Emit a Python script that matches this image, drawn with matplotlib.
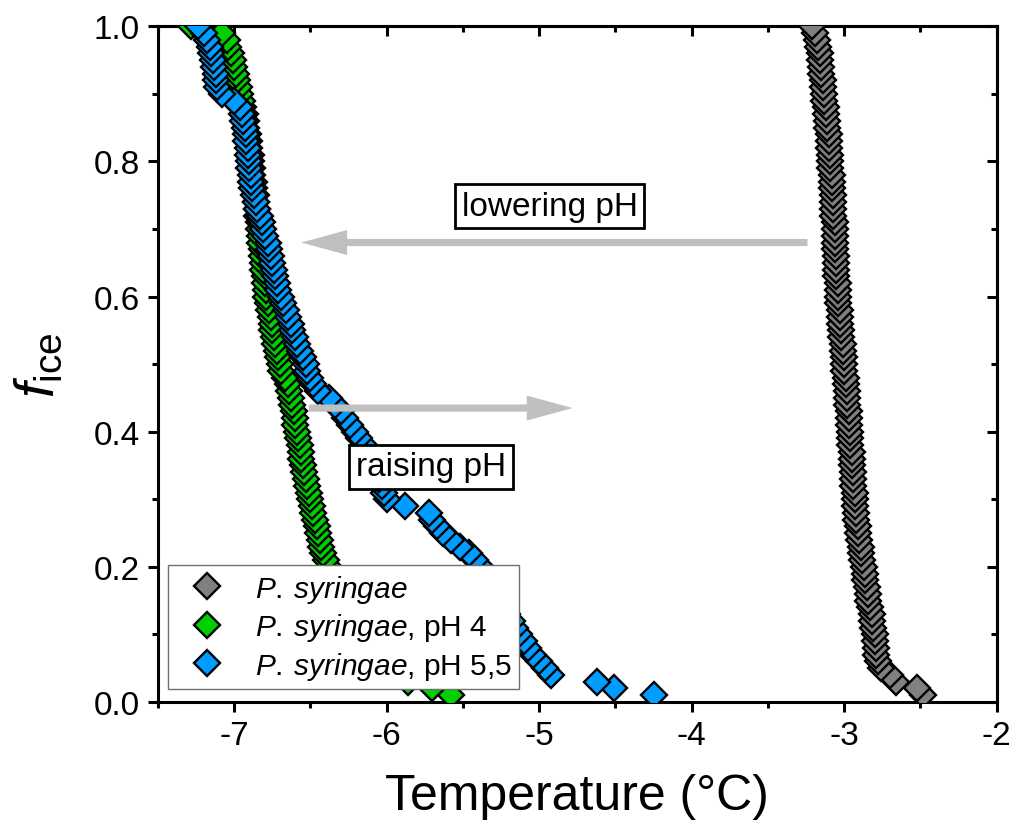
import matplotlib
matplotlib.use("Agg")
import matplotlib.pyplot as plt
from matplotlib.ticker import MultipleLocator

plt.rcParams['font.family'] = ['Liberation Sans', 'DejaVu Sans']
plt.rcParams['mathtext.fontset'] = 'custom'
plt.rcParams['mathtext.rm'] = 'Liberation Sans'
plt.rcParams['mathtext.it'] = 'Liberation Sans:italic'
plt.rcParams['axes.unicode_minus'] = False

# fraction of frozen droplets (ascending order, as measured)
f_ice = [0.01, 0.02, 0.03, 0.04, 0.05, 0.06, 0.07, 0.08, 0.09, 0.10,
         0.11, 0.12, 0.13, 0.14, 0.15, 0.16, 0.17, 0.18, 0.19, 0.20,
         0.21, 0.22, 0.23, 0.24, 0.25, 0.26, 0.27, 0.28, 0.29, 0.30,
         0.31, 0.32, 0.33, 0.34, 0.35, 0.36, 0.37, 0.38, 0.39, 0.40,
         0.41, 0.42, 0.43, 0.44, 0.45, 0.46, 0.47, 0.48, 0.49, 0.50,
         0.51, 0.52, 0.53, 0.54, 0.55, 0.56, 0.57, 0.58, 0.59, 0.60,
         0.61, 0.62, 0.63, 0.64, 0.65, 0.66, 0.67, 0.68, 0.69, 0.70,
         0.71, 0.72, 0.73, 0.74, 0.75, 0.76, 0.77, 0.78, 0.79, 0.80,
         0.81, 0.82, 0.83, 0.84, 0.85, 0.86, 0.87, 0.88, 0.89, 0.90,
         0.91, 0.92, 0.93, 0.94, 0.95, 0.96, 0.97, 0.98, 0.99, 1.00]

temp_ps = [-2.48, -2.52, -2.66, -2.70, -2.76, -2.78, -2.79, -2.79, -2.80, -2.80,
           -2.81, -2.82, -2.82, -2.83, -2.84, -2.84, -2.85, -2.86, -2.86, -2.87,
           -2.88, -2.89, -2.89, -2.90, -2.91, -2.91, -2.92, -2.92, -2.93, -2.93,
           -2.93, -2.94, -2.94, -2.94, -2.95, -2.95, -2.95, -2.96, -2.96, -2.96,
           -2.97, -2.97, -2.97, -2.98, -2.98, -2.98, -2.99, -2.99, -3.00, -3.00,
           -3.00, -3.01, -3.01, -3.02, -3.02, -3.03, -3.03, -3.03, -3.04, -3.04,
           -3.04, -3.04, -3.05, -3.05, -3.05, -3.05, -3.06, -3.06, -3.06, -3.06,
           -3.06, -3.07, -3.07, -3.07, -3.07, -3.08, -3.08, -3.08, -3.09, -3.09,
           -3.09, -3.10, -3.10, -3.10, -3.11, -3.11, -3.12, -3.12, -3.13, -3.13,
           -3.14, -3.14, -3.15, -3.15, -3.16, -3.16, -3.17, -3.18, -3.19, -3.21]

temp_ph4 = [-5.58, -5.70, -5.86, -5.90, -5.94, -5.97, -6.00, -6.03, -6.06, -6.09,
            -6.12, -6.15, -6.18, -6.21, -6.24, -6.27, -6.30, -6.33, -6.36, -6.38,
            -6.40, -6.42, -6.43, -6.44, -6.45, -6.46, -6.47, -6.48, -6.49, -6.50,
            -6.51, -6.52, -6.53, -6.54, -6.55, -6.56, -6.56, -6.57, -6.58, -6.59,
            -6.60, -6.60, -6.61, -6.62, -6.63, -6.64, -6.65, -6.67, -6.69, -6.70,
            -6.71, -6.72, -6.73, -6.74, -6.75, -6.75, -6.76, -6.77, -6.78, -6.79,
            -6.79, -6.80, -6.80, -6.81, -6.81, -6.82, -6.82, -6.83, -6.83, -6.84,
            -6.84, -6.85, -6.85, -6.86, -6.86, -6.87, -6.87, -6.88, -6.88, -6.89,
            -6.89, -6.90, -6.90, -6.91, -6.92, -6.92, -6.93, -6.94, -6.95, -6.96,
            -6.97, -6.98, -6.99, -7.00, -7.01, -7.02, -7.04, -7.05, -7.08, -7.28]

temp_ph55 = [-4.25, -4.51, -4.62, -4.92, -4.96, -5.00, -5.04, -5.07, -5.10, -5.13,
             -5.16, -5.18, -5.21, -5.23, -5.25, -5.28, -5.30, -5.33, -5.35, -5.38,
             -5.42, -5.46, -5.52, -5.58, -5.63, -5.67, -5.70, -5.72, -5.88, -6.00,
             -6.02, -6.03, -6.05, -6.07, -6.09, -6.11, -6.13, -6.15, -6.18, -6.21,
             -6.24, -6.27, -6.30, -6.34, -6.38, -6.45, -6.48, -6.50, -6.52, -6.53,
             -6.55, -6.57, -6.59, -6.60, -6.62, -6.63, -6.65, -6.66, -6.68, -6.69,
             -6.71, -6.72, -6.73, -6.74, -6.75, -6.76, -6.77, -6.78, -6.80, -6.81,
             -6.82, -6.83, -6.85, -6.86, -6.87, -6.88, -6.89, -6.89, -6.90, -6.90,
             -6.91, -6.91, -6.92, -6.92, -6.93, -6.94, -6.95, -6.96, -7.00, -7.08,
             -7.11, -7.12, -7.12, -7.13, -7.14, -7.15, -7.16, -7.18, -7.20, -7.24]

series_labels = [r'$\mathit{P.\:syringae}$',
                 r'$\mathit{P.\:syringae}$, pH 4',
                 r'$\mathit{P.\:syringae}$, pH 5,5']
series_colors = ['#808080', '#00D000', '#009CFF']

fig = plt.figure(figsize=(10.19, 8.28), dpi=100)
ax = fig.add_axes([0.155, 0.151, 0.823, 0.816])

for temps, lab, col in zip([temp_ps, temp_ph4, temp_ph55], series_labels, series_colors):
    ax.plot(temps, f_ice, linestyle='none', marker='D', markersize=13,
            markerfacecolor=col, markeredgecolor='black', markeredgewidth=1.7,
            label=lab, zorder=3)

ax.set_xlim(-7.5, -2)
ax.set_ylim(0, 1)
ax.xaxis.set_major_locator(MultipleLocator(1))
ax.xaxis.set_minor_locator(MultipleLocator(0.5))
ax.yaxis.set_major_locator(MultipleLocator(0.2))
ax.yaxis.set_minor_locator(MultipleLocator(0.1))
ax.yaxis.set_major_formatter(matplotlib.ticker.FormatStrFormatter('%.1f'))
ax.xaxis.set_major_formatter(matplotlib.ticker.FormatStrFormatter('%d'))

for s in ax.spines.values():
    s.set_linewidth(2.2)
ax.tick_params(which='major', direction='out', length=7, width=2.2, labelsize=24, pad=6)
ax.tick_params(which='minor', direction='out', length=4, width=2.2)

secx = ax.secondary_xaxis('top')
secx.xaxis.set_major_locator(MultipleLocator(1))
secx.xaxis.set_minor_locator(MultipleLocator(0.5))
secx.tick_params(which='major', direction='in', length=7, width=2.2, labeltop=False)
secx.tick_params(which='minor', direction='in', length=4, width=2.2)
secx.spines['top'].set_linewidth(2.2)
secy = ax.secondary_yaxis('right')
secy.yaxis.set_major_locator(MultipleLocator(0.2))
secy.yaxis.set_minor_locator(MultipleLocator(0.1))
secy.tick_params(which='major', direction='in', length=7, width=2.2, labelright=False)
secy.tick_params(which='minor', direction='in', length=4, width=2.2)
secy.spines['right'].set_linewidth(2.2)

ax.set_xlabel('Temperature (°C)', fontsize=36, labelpad=16)
ax.set_ylabel(r'$\mathit{f}_{\mathrm{ice}}$', fontsize=40, labelpad=20)

# arrows
arrow_style = 'simple,head_length=1.65,head_width=0.9,tail_width=0.26'
ax.annotate('', xy=(-6.56, 0.68), xytext=(-3.24, 0.68),
            arrowprops=dict(arrowstyle=arrow_style, color='#C0C0C0', lw=0,
                            shrinkA=0, shrinkB=0, mutation_scale=20), zorder=4)
ax.annotate('', xy=(-4.78, 0.435), xytext=(-6.51, 0.435),
            arrowprops=dict(arrowstyle=arrow_style, color='#C0C0C0', lw=0,
                            shrinkA=0, shrinkB=0, mutation_scale=20), zorder=4)

box = dict(boxstyle='square,pad=0.2', fc='white', ec='black', lw=2)
ax.text(-4.93, 0.734, 'lowering pH', fontsize=24, ha='center', va='center', bbox=box, zorder=5)
ax.text(-5.71, 0.348, 'raising pH', fontsize=24, ha='center', va='center', bbox=box, zorder=5)

leg = ax.legend(loc='lower left', bbox_to_anchor=(0.012, 0.019), fontsize=21.5,
                frameon=True, fancybox=False, framealpha=1, edgecolor='#707070',
                borderpad=0.25, labelspacing=0.22, handletextpad=0.55,
                handlelength=2.1, borderaxespad=0)
leg.get_frame().set_linewidth(1.0)
leg.set_zorder(10)

fig.savefig('out.png', dpi=100)
